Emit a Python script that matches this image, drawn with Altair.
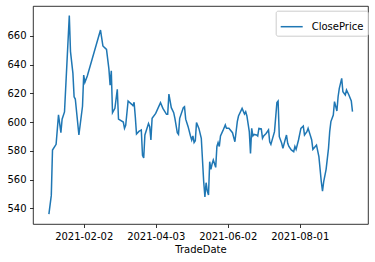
import altair as alt
import pandas as pd

dates = ["2021-01-04","2021-01-06","2021-01-07","2021-01-10","2021-01-12","2021-01-14","2021-01-15","2021-01-17","2021-01-21","2021-01-22",
         "2021-01-24","2021-01-25","2021-01-26","2021-01-29","2021-02-01","2021-02-02","2021-02-03","2021-02-05","2021-02-16","2021-02-18",
         "2021-02-21","2021-02-23","2021-02-24","2021-02-25","2021-02-26","2021-02-28","2021-03-02","2021-03-03","2021-03-07","2021-03-08",
         "2021-03-09","2021-03-11","2021-03-14","2021-03-15","2021-03-16","2021-03-17","2021-03-18","2021-03-20","2021-03-22","2021-03-23",
         "2021-03-24","2021-03-25","2021-03-28","2021-03-29","2021-03-30","2021-03-31","2021-04-03","2021-04-07","2021-04-09","2021-04-12",
         "2021-04-13","2021-04-14","2021-04-16","2021-04-18","2021-04-19","2021-04-21","2021-04-22","2021-04-23","2021-04-26","2021-04-27",
         "2021-04-28","2021-04-30","2021-05-02","2021-05-03","2021-05-04","2021-05-05","2021-05-06","2021-05-07","2021-05-09","2021-05-11",
         "2021-05-13","2021-05-14","2021-05-15","2021-05-16","2021-05-17","2021-05-18","2021-05-19","2021-05-20","2021-05-21","2021-05-23",
         "2021-05-24","2021-05-25","2021-05-26","2021-05-27","2021-05-29","2021-05-31","2021-06-01","2021-06-03","2021-06-06","2021-06-07",
         "2021-06-08","2021-06-10","2021-06-11","2021-06-14","2021-06-16","2021-06-17","2021-06-18","2021-06-20","2021-06-21","2021-06-22",
         "2021-06-23","2021-06-24","2021-06-26","2021-06-27","2021-06-28","2021-06-30","2021-07-01","2021-07-02","2021-07-04","2021-07-06",
         "2021-07-07","2021-07-08","2021-07-11","2021-07-13","2021-07-14","2021-07-15","2021-07-17","2021-07-18","2021-07-20","2021-07-21",
         "2021-07-22","2021-07-23","2021-07-25","2021-07-27","2021-07-28","2021-07-29","2021-07-31","2021-08-02","2021-08-04","2021-08-05",
         "2021-08-07","2021-08-08","2021-08-10","2021-08-11","2021-08-12","2021-08-14","2021-08-15","2021-08-17","2021-08-19","2021-08-20",
         "2021-08-21","2021-08-23","2021-08-25","2021-08-26","2021-08-27","2021-08-29","2021-08-30","2021-09-01","2021-09-02","2021-09-03",
         "2021-09-05","2021-09-06","2021-09-08","2021-09-09","2021-09-11","2021-09-13","2021-09-14"]

close_price = [536, 549, 580.5, 584.5, 605, 592.6, 602, 607, 674, 649,
               634, 617.6, 616, 591, 611, 632.7, 627.6, 632, 664, 652.9,
               650.5, 637, 625.7, 635.7, 606.5, 609.5, 622.7, 602, 600, 595.6,
               597.7, 614.6, 612.3, 611.4, 613.7, 603.7, 591.7, 593.5, 594.5, 576.8,
               575, 591, 599, 596.8, 587.5, 602.6, 606, 613.5, 609.5, 605.4,
               605.4, 619.5, 610, 606.5, 602.6, 592.6, 591.4, 602.6, 610, 610.7,
               602, 596.8, 590.3, 587.5, 590.3, 585.7, 587, 599.6, 595.6, 588.7,
               558.5, 548, 557.8, 552, 549.3, 572.4, 567.1, 570.8, 573.6, 568.5,
               583, 585.7, 583, 590.3, 594, 598, 595.6, 595.6, 592.6, 589.4,
               586.3, 600.3, 604.2, 609.5, 605.6, 607.2, 604.2, 593.3, 578.2, 595.6,
               590.3, 591.4, 591, 590.3, 595.6, 595.2, 588.7, 590.3, 592.1, 594.5,
               586.3, 584.5, 593.3, 613.5, 614.6, 589.8, 585.2, 581.7, 588, 591,
               585.2, 583, 580.6, 579.4, 583, 581, 587.5, 595.6, 597.2, 591,
               593.3, 595.6, 590.3, 587.5, 581, 583, 584, 575.9, 558.5, 552,
               558.5, 567.1, 581.7, 593.3, 600.3, 604.9, 614.2, 607.7, 617.6, 623.4,
               630.4, 621.1, 618.8, 622.3, 618.8, 614.6, 607.2]

y_ticks = [540, 560, 580, 600, 620, 640, 660]
x_ticks = [(2021, 2, 2), (2021, 4, 3), (2021, 6, 2), (2021, 8, 1)]

df = pd.DataFrame({"TradeDate": dates, "ClosePrice": close_price})

FONT = "DejaVu Sans"

x_axis = alt.Axis(
    values=[alt.DateTime(year=y, month=m, date=d, utc=True) for (y, m, d) in x_ticks],
    format="%Y-%m-%d", title="TradeDate", labelFlush=False, labelOverlap=False,
    titlePadding=3,
)
y_axis = alt.Axis(values=y_ticks, title=None)

chart = (
    alt.Chart(df)
    .transform_fold(["ClosePrice"], as_=["series", "price"])
    .mark_line(strokeWidth=1.5, clip=True)
    .encode(
        x=alt.X("TradeDate:T",
                scale=alt.Scale(type="utc", nice=False,
                                domain=[alt.DateTime(year=2020, month=12, date=21, hours=18, utc=True),
                                        alt.DateTime(year=2021, month=9, date=26, hours=22, utc=True)]),
                axis=x_axis),
        y=alt.Y("price:Q", scale=alt.Scale(domain=[529.1, 680.7], nice=False, zero=False), axis=y_axis),
        color=alt.Color("series:N", scale=alt.Scale(range=["#1f77b4"]),
                        legend=alt.Legend(title=None, orient="none", legendX=242.7, legendY=4.7,
                                          symbolType="stroke", symbolSize=484, symbolStrokeWidth=1.5,
                                          labelFontSize=10, labelFont=FONT, labelColor="black",
                                          padding=4, strokeColor="#cccccc", cornerRadius=2,
                                          fillColor="white", labelOffset=8)),
    )
    .properties(width=335, height=218,
                padding={"left": 33, "top": 6, "right": 7, "bottom": 38},
                autosize=alt.AutoSizeParams(type="none"),
                background="white")
    .configure_view(stroke="black", strokeWidth=0.8)
    .configure_axis(labelFont=FONT, labelFontSize=10, labelColor="black",
                    tickColor="black", tickSize=3.5, tickWidth=0.8, labelPadding=3.5,
                    domain=False, grid=False, titleFont=FONT, titleFontSize=10,
                    titleFontWeight="normal", titleColor="black")
)

chart.save("out.html", embed_options={"renderer": "svg", "actions": False})
